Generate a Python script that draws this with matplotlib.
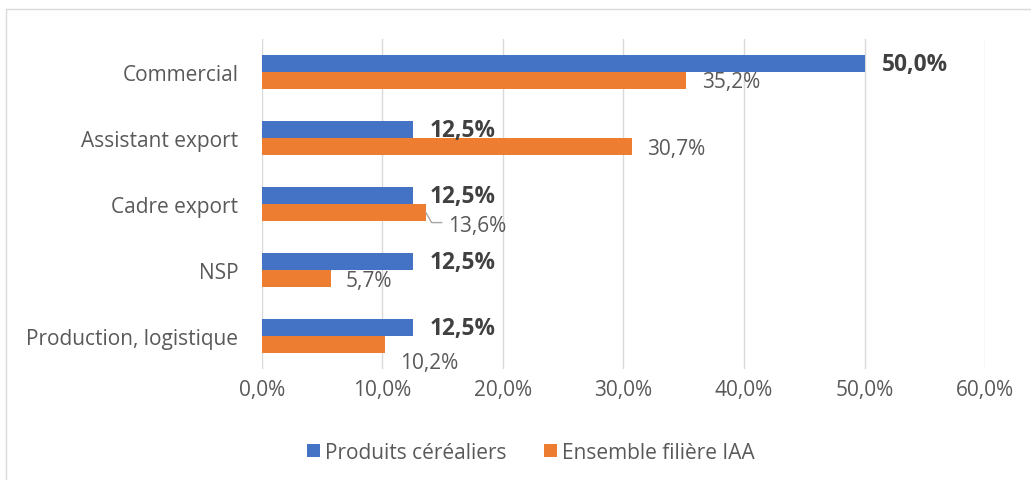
import matplotlib
matplotlib.use("Agg")
import matplotlib.pyplot as plt
import numpy as np
from matplotlib.patches import Rectangle

categories = ["Commercial", "Assistant export", "Cadre export", "NSP",
              "Production, logistique"]
cereales = [50.0, 12.5, 12.5, 12.5, 12.5]
ensemble = [35.2, 30.7, 13.6, 5.7, 10.2]
series_names = ["Produits céréaliers", "Ensemble filière IAA"]
xticks = [0, 10, 20, 30, 40, 50, 60]

BLUE = "#4472C4"
ORANGE = "#ED7D31"
TXT = "#595959"
GRID = "#D9D9D9"

plt.rcParams["font.family"] = ["Open Sans", "DejaVu Sans"]

fig = plt.figure(figsize=(10.31, 4.81), dpi=100)
ax = fig.add_axes([0.2541, 0.2308, 0.7013, 0.686])

y = np.arange(len(categories))[::-1].astype(float)
h = 0.26
b1 = ax.barh(y + h / 2, cereales, height=h, color=BLUE, label=series_names[0], zorder=3)
b2 = ax.barh(y - h / 2, ensemble, height=h, color=ORANGE, label=series_names[1], zorder=3)

ax.set_xlim(0, 60)
ax.set_ylim(-0.5, len(categories) - 0.5)
ax.set_xticks(xticks)
ax.set_xticklabels([f"{v:.1f}%".replace(".", ",") for v in xticks])
ax.set_yticks(y)
ax.set_yticklabels(categories)
ax.tick_params(axis="both", length=0, colors=TXT, labelsize=15)
ax.tick_params(axis="y", pad=17)
ax.tick_params(axis="x", pad=7)
ax.grid(axis="x", color=GRID, linewidth=1, zorder=0)
for s in ax.spines.values():
    s.set_visible(False)


def px(v):
    return v * 0.72


# bold labels on blue bars
for yi, v in zip(y, cereales):
    ax.annotate(f"{v:.1f}%".replace(".", ","), (v, yi + h / 2),
                xytext=(px(17), px(-1)), textcoords="offset points",
                ha="left", va="center", fontsize=16.3, fontweight="bold",
                color="#404040")

# orange labels, offsets in pixels as they sit in the reference
offsets = [(16, -1), (15, -2), (22, -13), (15, -2), (15, -18)]
for yi, v, (dx, dy) in zip(y, ensemble, offsets):
    ax.annotate(f"{v:.1f}%".replace(".", ","), (v, yi - h / 2),
                xytext=(px(dx), px(dy)), textcoords="offset points",
                ha="left", va="center", fontsize=15, color=TXT)

# leader line for Cadre export label
v = ensemble[2]
yi = y[2] - h / 2
ax.annotate("", xy=(v, yi), xytext=(px(16), px(-10)), textcoords="offset points",
            arrowprops=dict(arrowstyle="-", color="#A6A6A6", lw=1,
                            connectionstyle="angle,angleA=0,angleB=-60,rad=0",
                            shrinkA=0, shrinkB=0))

leg = fig.legend(handles=[b1, b2], labels=series_names, loc="center",
                 bbox_to_anchor=(0.515, 0.058), ncol=2, frameon=False,
                 fontsize=15, handlelength=0.62, handleheight=0.62,
                 handletextpad=0.25, columnspacing=1.8)
for t in leg.get_texts():
    t.set_color(TXT)

fig.patches.append(Rectangle((6 / 1031, -0.01), 1.1, 1 - 10 / 481 + 0.01,
                             transform=fig.transFigure, fill=False,
                             edgecolor=GRID, linewidth=1))

fig.savefig("out.png", dpi=100)
